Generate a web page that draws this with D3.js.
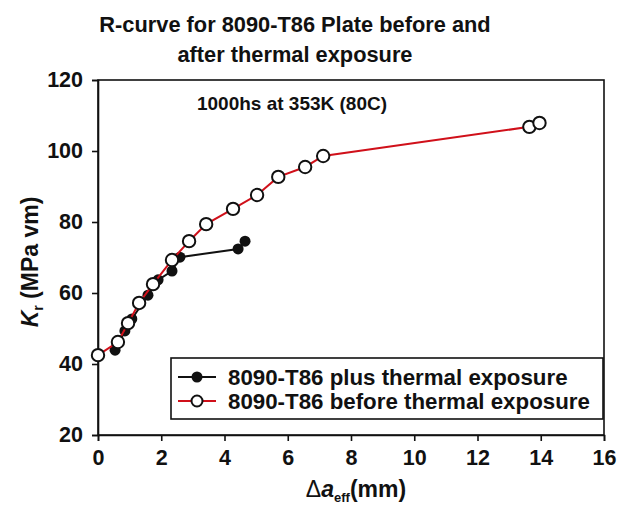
<!DOCTYPE html>
<html><head><meta charset="utf-8">
<script src="https://cdn.jsdelivr.net/npm/d3@7"></script>
<style>body{margin:0;background:#fff}svg{display:block;font-family:"Liberation Sans",Arial,sans-serif}</style>
</head><body><svg id="c" width="619" height="505"></svg>
<script>
const plusX = [0.54, 0.85, 1.07, 1.58, 1.90, 2.34, 2.59, 4.43, 4.65];
const plusY = [43.9, 49.3, 52.7, 59.4, 63.7, 66.2, 70.1, 72.4, 74.6];
const beforeX = [0.0, 0.63, 0.95, 1.30, 1.74, 2.34, 2.88, 3.42, 4.27, 5.03, 5.70, 6.55, 7.12, 13.64, 13.96];
const beforeY = [42.5, 46.2, 51.5, 57.2, 62.5, 69.3, 74.6, 79.4, 83.7, 87.6, 92.7, 95.5, 98.6, 106.8, 107.9];
const xTicks = [0, 2, 4, 6, 8, 10, 12, 14, 16];
const yTicks = [20, 40, 60, 80, 100, 120];
const seriesNames = ["8090-T86 plus thermal exposure", "8090-T86 before thermal exposure"];

const svg = d3.select("#c");
const L = 98, R = 604, T = 80, B = 435;
const x = d3.scaleLinear().domain([0, 16]).range([L, R]);
const y = d3.scaleLinear().domain([20, 120]).range([B, T]);

// frame
svg.append("rect").attr("x", L).attr("y", T).attr("width", R - L).attr("height", B - T)
  .attr("fill", "none").attr("stroke", "#111").attr("stroke-width", 1.6);

const xa = svg.append("g").attr("transform", `translate(0,${B})`)
  .call(d3.axisBottom(x).tickValues(xTicks).tickSize(6).tickPadding(9).tickFormat(d3.format("d")));
const ya = svg.append("g").attr("transform", `translate(${L},0)`)
  .call(d3.axisLeft(y).tickValues(yTicks).tickSize(6).tickPadding(9).tickFormat(d3.format("d")));
[xa, ya].forEach(a => {
  a.select(".domain").attr("stroke", "#111").attr("stroke-width", 1.6);
  a.selectAll(".tick line").attr("stroke", "#111").attr("stroke-width", 1.6);
  a.selectAll(".tick text").attr("font-size", 21.5).attr("font-weight", "bold").attr("fill", "#111")
    .attr("font-family", "Liberation Sans, Arial, sans-serif");
});

const line = d3.line().x(d => x(d[0])).y(d => y(d[1]));
const plus = plusX.map((v, i) => [v, plusY[i]]);
const before = beforeX.map((v, i) => [v, beforeY[i]]);

svg.append("path").datum(plus).attr("d", line).attr("fill", "none").attr("stroke", "#111").attr("stroke-width", 2);
svg.selectAll(".pp").data(plus).enter().append("circle")
  .attr("cx", d => x(d[0])).attr("cy", d => y(d[1])).attr("r", 5.5).attr("fill", "#111");
svg.append("path").datum(before).attr("d", line).attr("fill", "none").attr("stroke", "#d0101a").attr("stroke-width", 2);
svg.selectAll(".bp").data(before).enter().append("circle")
  .attr("cx", d => x(d[0])).attr("cy", d => y(d[1])).attr("r", 6.2)
  .attr("fill", "#fff").attr("stroke", "#111").attr("stroke-width", 2);

// title
const title = svg.append("text").attr("text-anchor", "middle").attr("font-size", 21.8).attr("font-weight", "bold").attr("fill", "#111");
title.append("tspan").attr("x", 295).attr("y", 32).text("R-curve for 8090-T86 Plate before and");
title.append("tspan").attr("x", 295).attr("y", 62).text("after thermal exposure");

svg.append("text").attr("x", 292).attr("y", 110).attr("text-anchor", "middle")
  .attr("font-size", 19).attr("font-weight", "bold").attr("fill", "#111").text("1000hs at 353K (80C)");

// legend
const lg = svg.append("g");
lg.append("rect").attr("x", 171).attr("y", 358).attr("width", 432).attr("height", 61)
  .attr("fill", "#fff").attr("stroke", "#111").attr("stroke-width", 1.6);
const ly = [377, 401];
lg.append("line").attr("x1", 178).attr("x2", 216).attr("y1", ly[0]).attr("y2", ly[0]).attr("stroke", "#111").attr("stroke-width", 2);
lg.append("circle").attr("cx", 197).attr("cy", ly[0]).attr("r", 5.5).attr("fill", "#111");
lg.append("line").attr("x1", 178).attr("x2", 216).attr("y1", ly[1]).attr("y2", ly[1]).attr("stroke", "#d0101a").attr("stroke-width", 2);
lg.append("circle").attr("cx", 197).attr("cy", ly[1]).attr("r", 5.5).attr("fill", "#fff").attr("stroke", "#111").attr("stroke-width", 2);
seriesNames.forEach((n, i) => {
  lg.append("text").attr("x", 228).attr("y", ly[i] + 7.5).attr("font-size", 22.3).attr("font-weight", "bold").attr("fill", "#111").text(n);
});

// x label
const xl = svg.append("text").attr("x", 356).attr("y", 497).attr("text-anchor", "middle")
  .attr("font-size", 23).attr("font-weight", "bold").attr("fill", "#111");
xl.append("tspan").attr("font-weight", "normal").text("Δ");
xl.append("tspan").attr("font-style", "italic").text("a");
xl.append("tspan").attr("font-size", 13).attr("dy", 5).text("eff");
xl.append("tspan").attr("dy", -5).text("(mm)");

// y label
const yl = svg.append("text").attr("transform", "translate(38,262) rotate(-90)").attr("text-anchor", "middle")
  .attr("font-size", 23).attr("font-weight", "bold").attr("fill", "#111");
yl.append("tspan").attr("font-style", "italic").text("K");
yl.append("tspan").attr("font-size", 14).attr("dy", 5).text("r");
yl.append("tspan").attr("dy", -5).text(" (MPa vm)");
</script></body></html>
